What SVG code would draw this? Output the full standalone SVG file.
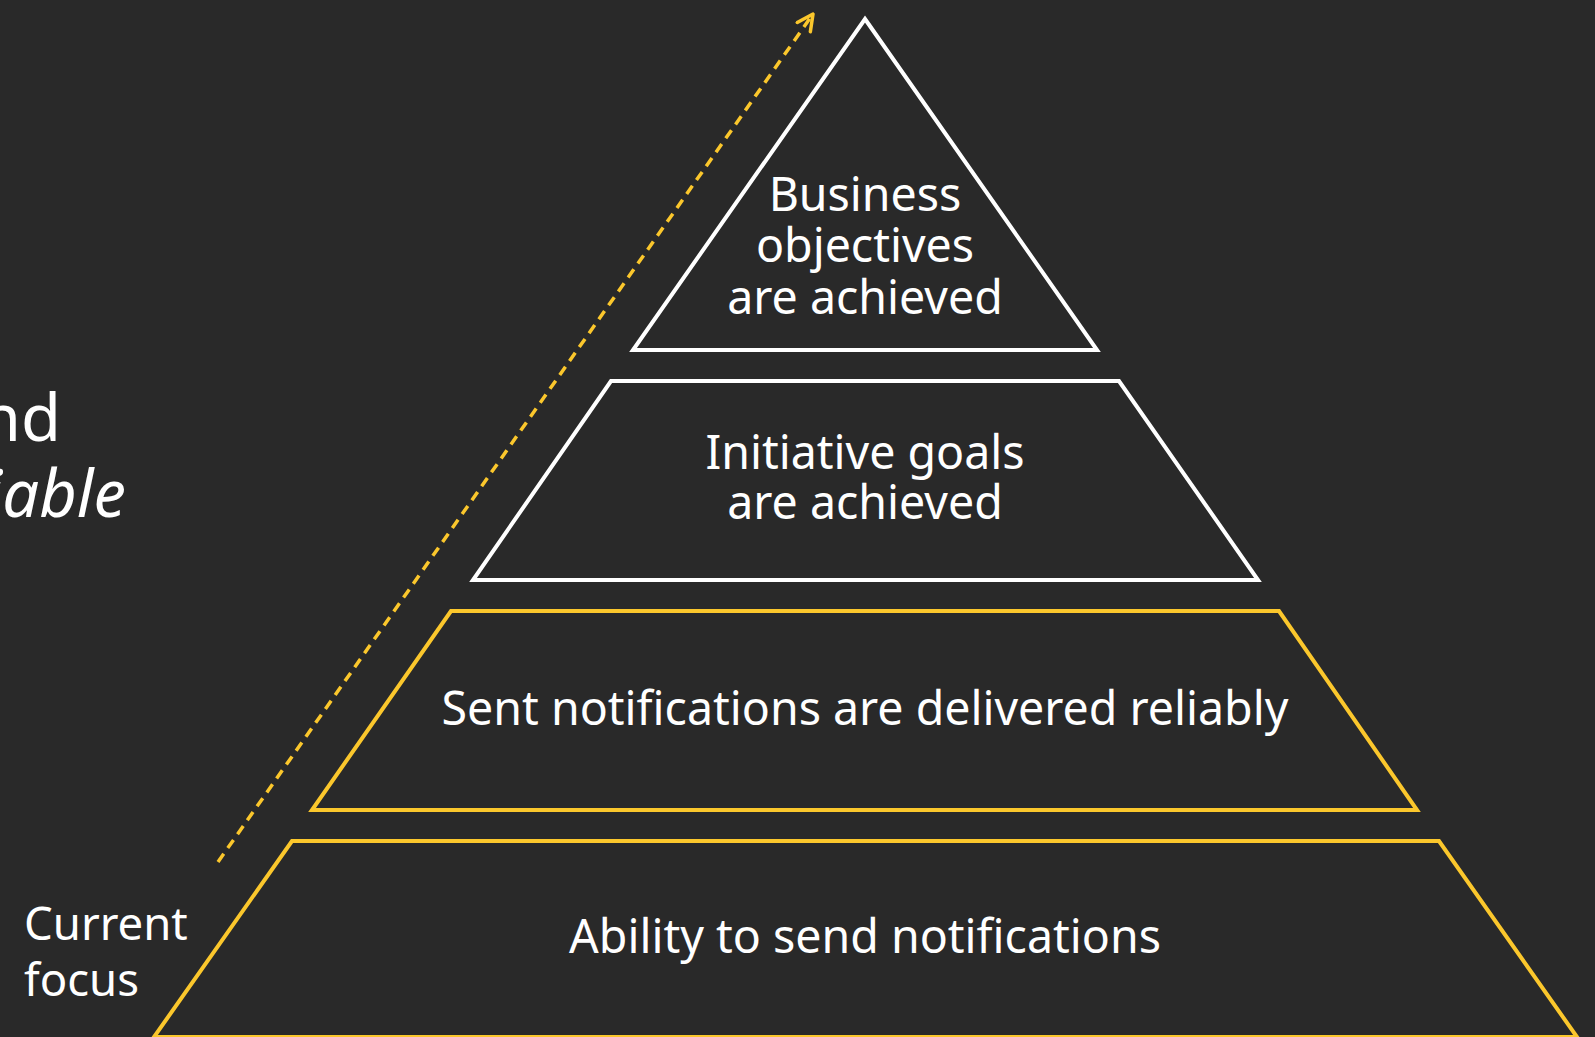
<svg xmlns="http://www.w3.org/2000/svg" width="1595" height="1037" viewBox="0 0 1595 1037">
<style>
.bg{fill:#292929}
.w{fill:none;stroke:#ffffff;stroke-width:4;stroke-linejoin:miter}
.y{fill:none;stroke:#fbc72c;stroke-width:4;stroke-linejoin:miter}
.t{font-family:"Noto Sans","Open Sans","DejaVu Sans",sans-serif;fill:#ffffff;font-size:46.5px;text-anchor:middle}
.l{font-family:"Noto Sans","Open Sans","DejaVu Sans",sans-serif;fill:#ffffff;font-size:45.5px}
.big{font-family:"Noto Sans","Open Sans","DejaVu Sans",sans-serif;fill:#ffffff;font-size:65px;text-anchor:end}
</style>
<defs>
<marker id="ah" viewBox="0 0 20 20" refX="18" refY="10" markerWidth="20" markerHeight="20" markerUnits="userSpaceOnUse" orient="auto">
<path d="M2,2 L18,10 L2,18" fill="none" stroke="#fbc72c" stroke-width="3.5" stroke-linecap="round" stroke-linejoin="round"/>
</marker>
</defs>
<rect class="bg" x="0" y="0" width="1595" height="1037"/>
<text class="big" x="61" y="441">nd</text>
<text class="big" x="126" y="517" font-style="italic">iable</text>
<g id="connectors">
<line x1="218" y1="862" x2="813" y2="14" stroke="#fbc72c" stroke-width="3.5" stroke-dasharray="10,7" marker-end="url(#ah)"/>
</g>
<g id="level-4">
<polygon class="w" points="865,19 1097,350 633,350"/>
<text class="t" x="865" y="211">Business</text>
<text class="t" x="865" y="262">objectives</text>
<text class="t" x="865" y="314">are achieved</text>
</g>
<g id="level-3">
<polygon class="w" points="611,381 1119,381 1258,580 473,580"/>
<text class="t" x="865" y="469">Initiative goals</text>
<text class="t" x="865" y="519">are achieved</text>
</g>
<g id="level-2">
<polygon class="y" points="451,611 1279,611 1417,810 312,810"/>
<text class="t" x="865" y="725">Sent notifications are delivered reliably</text>
</g>
<g id="level-1">
<polygon class="y" points="292,841 1439,841 1577,1037 154,1037"/>
<text class="t" x="865" y="953">Ability to send notifications</text>
</g>
<g id="current-focus">
<text class="l" x="24" y="940">Current</text>
<text class="l" x="24" y="996">focus</text>
</g>
</svg>
